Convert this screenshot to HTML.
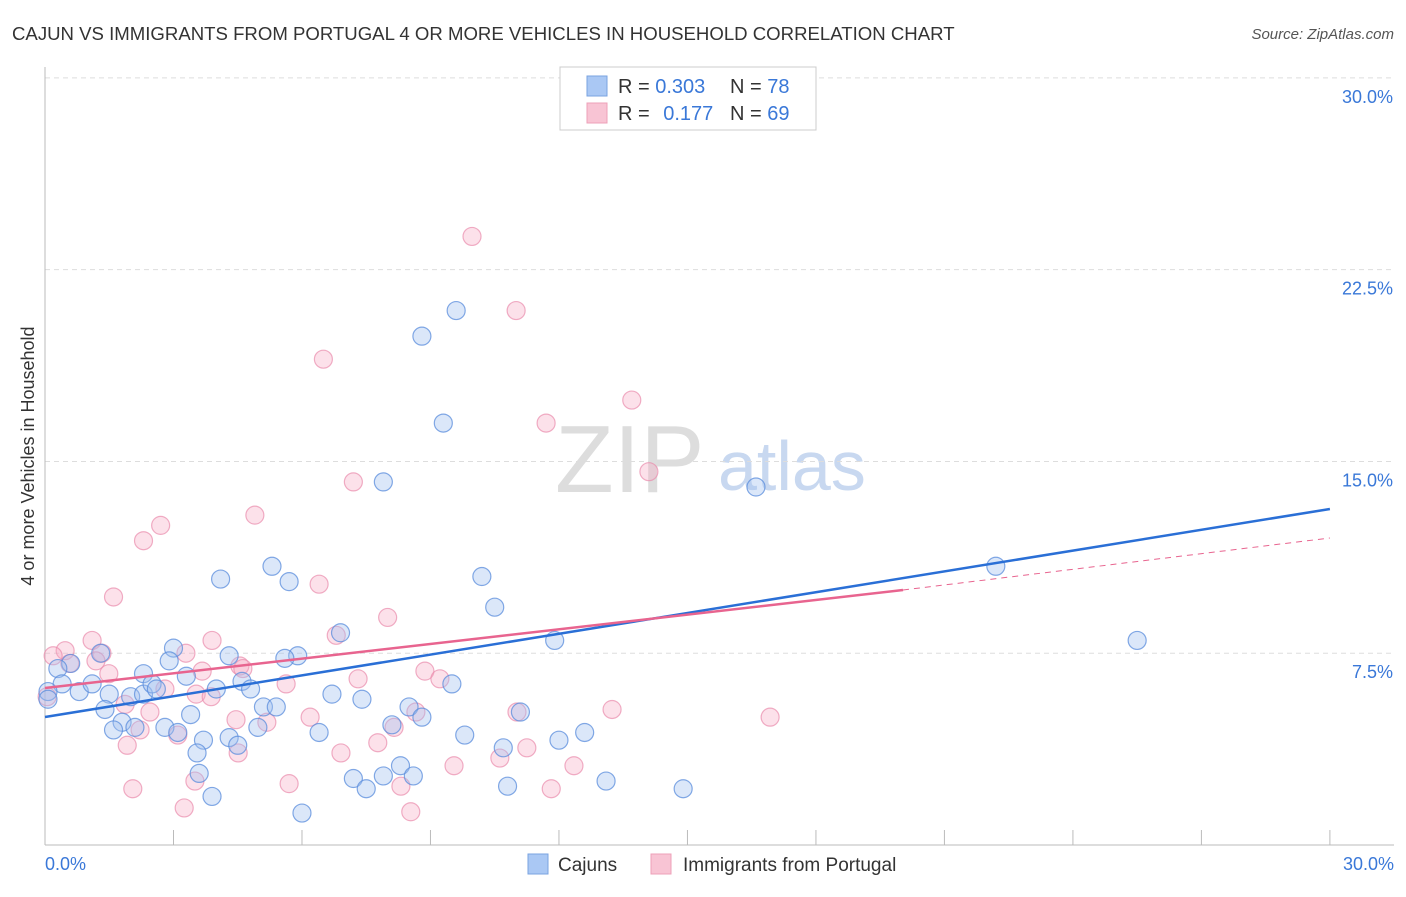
<!DOCTYPE html>
<html><head><meta charset="utf-8"><style>
body{margin:0;background:#fff;font-family:"Liberation Sans",sans-serif}
svg text{font-family:"Liberation Sans",sans-serif}
</style></head><body>
<svg id="c" width="1406" height="892">
<text x="12" y="40" font-size="18.6" fill="#333">CAJUN VS IMMIGRANTS FROM PORTUGAL 4 OR MORE VEHICLES IN HOUSEHOLD CORRELATION CHART</text>
<text x="1394" y="39" font-size="15" fill="#555" font-style="italic" text-anchor="end">Source: ZipAtlas.com</text>
<text transform="translate(34,456) rotate(-90)" font-size="18" fill="#333" text-anchor="middle">4 or more Vehicles in Household</text>
<text x="555" y="492" font-size="96" fill="#ddd" font-family="Liberation Serif">ZIP</text>
<text x="718" y="490" font-size="70" fill="#c8d8f0">atlas</text>
<g id="grid"></g><g id="pts"></g><g id="lines"></g>
<g>
<rect x="560" y="67" width="256" height="63" fill="#fff" stroke="#ccc"/>
<rect x="587" y="76" width="20" height="20" fill="#aac8f4" stroke="#7aa3e0"/>
<rect x="587" y="103" width="20" height="20" fill="#f8c4d4" stroke="#eea0b8"/>
<text x="618" y="93" font-size="20" fill="#333">R = <tspan fill="#3a78d8">0.303</tspan></text>
<text x="730" y="93" font-size="20" fill="#333">N = <tspan fill="#3a78d8">78</tspan></text>
<text x="618" y="120" font-size="20" fill="#333">R = <tspan fill="#3a78d8" dx="8">0.177</tspan></text>
<text x="730" y="120" font-size="20" fill="#333">N = <tspan fill="#3a78d8">69</tspan></text>
</g>
<g>
<rect x="528" y="854" width="20" height="20" fill="#aac8f4" stroke="#7aa3e0"/>
<text x="558" y="871" font-size="19" fill="#333">Cajuns</text>
<rect x="651" y="854" width="20" height="20" fill="#f8c4d4" stroke="#eea0b8"/>
<text x="683" y="871" font-size="19" fill="#333">Immigrants from Portugal</text>
</g>
</svg>
<script>
const yTicks=[7.5,15,22.5,30];
const yTickLabels=["7.5%","15.0%","22.5%","30.0%"];
const xTickVals=[0,3,6,9,12,15,18,21,24,27,30];
const cajunX=[17.6,9.6,8.8,9.3,7.9,16.6,4.1,5.3,5.7,10.2,10.5,22.2,25.5,11.9,6.9,3.0,4.3,5.9,5.6,2.9,2.3,3.3,1.3,0.6,0.3,0.4,0.8,1.1,1.5,2.0,2.3,2.5,2.6,4.0,4.6,4.8,6.7,7.4,5.1,5.4,8.5,8.8,9.5,11.1,1.4,3.4,1.8,2.1,1.6,2.8,3.1,4.97,6.4,4.3,4.5,3.7,3.55,9.8,12.0,12.6,10.7,8.1,8.3,7.2,7.9,8.6,3.6,3.9,7.5,10.8,13.1,14.9,6.0,0.07,0.07];
const cajunY=[29.8,20.9,19.9,16.5,14.2,14.0,10.4,10.9,10.3,10.5,9.3,10.9,8.0,8.0,8.3,7.7,7.4,7.4,7.3,7.2,6.7,6.6,7.5,7.1,6.9,6.3,6.0,6.3,5.9,5.8,5.9,6.3,6.1,6.1,6.4,6.1,5.9,5.7,5.4,5.4,5.4,5.0,6.3,5.2,5.3,5.1,4.8,4.6,4.5,4.6,4.4,4.6,4.4,4.2,3.9,4.1,3.6,4.3,4.1,4.4,3.8,4.7,3.1,2.6,2.7,2.7,2.8,1.9,2.2,2.3,2.5,2.2,1.25,6.0,5.7];
const portX=[9.97,11.0,6.5,13.7,11.7,14.1,7.2,4.9,2.7,2.3,6.4,1.6,8.0,6.8,3.9,1.1,0.47,1.33,0.58,1.19,0.19,3.29,4.55,4.62,3.67,8.87,1.49,7.31,9.22,5.63,2.8,3.53,3.88,0.05,1.87,2.45,4.46,6.19,5.18,8.66,11.02,13.24,16.93,2.22,3.1,8.15,1.92,4.51,6.91,7.77,11.25,10.62,12.35,9.55,3.5,5.7,2.05,8.31,11.82,3.25,8.54];
const portY=[23.8,20.9,19.0,17.4,16.5,14.6,14.2,12.9,12.5,11.9,10.2,9.7,8.9,8.2,8.0,8.0,7.6,7.5,7.1,7.2,7.4,7.5,7.0,6.9,6.8,6.8,6.7,6.5,6.5,6.3,6.1,5.9,5.8,5.8,5.5,5.2,4.9,5.0,4.8,5.2,5.2,5.3,5.0,4.5,4.3,4.6,3.9,3.6,3.6,4.0,3.8,3.4,3.1,3.1,2.5,2.4,2.2,2.3,2.2,1.45,1.3];
const NS='http://www.w3.org/2000/svg';
const X=v=>45+v*42.83, Y=v=>845-v*25.57;
function mk(t,a,p){const e=document.createElementNS(NS,t);for(const k in a)e.setAttribute(k,a[k]);p.appendChild(e);return e;}
const g=document.getElementById('grid');
yTicks.forEach((v,i)=>{
 const l=mk('line',{x1:45,x2:1394,y1:Y(v),y2:Y(v),stroke:'#ddd','stroke-dasharray':'5,4'},g);
 
 
 const t=mk('text',{x:1393,y:Y(v)+25,'font-size':18,fill:'#3a78d8','text-anchor':'end'},g);t.textContent=yTickLabels[i];
 
 
});
mk('line',{x1:45,x2:45,y1:67,y2:845,stroke:'#bbb'},g);
mk('line',{x1:45,x2:1394,y1:845,y2:845,stroke:'#bbb'},g);
xTickVals.forEach(v=>{const l=mk('line',{x1:X(v),x2:X(v),y1:830,y2:845,stroke:'#bbb'},g);
 
 });
let t=mk('text',{x:45,y:870,'font-size':18,fill:'#3a78d8'},g);t.textContent='0.0%';


t=mk('text',{x:1394,y:870,'font-size':18,fill:'#3a78d8','text-anchor':'end'},g);t.textContent='30.0%';


const p=document.getElementById('pts');
portX.forEach((v,i)=>{const c=mk('circle',{cx:X(v),cy:Y(portY[i]),r:9,fill:'rgba(246,170,196,0.35)',stroke:'rgba(234,140,172,0.7)','stroke-width':1.2},p);
 
 });
cajunX.forEach((v,i)=>{const c=mk('circle',{cx:X(v),cy:Y(cajunY[i]),r:9,fill:'rgba(160,192,240,0.38)',stroke:'rgba(90,140,220,0.75)','stroke-width':1.2},p);
 
 });
const L=document.getElementById('lines');
let l=mk('line',{x1:X(0),y1:717,x2:X(30),y2:509,stroke:'#2a6fd6','stroke-width':2.5},L);


l=mk('line',{x1:X(0),y1:688,x2:903,y2:590,stroke:'#e8648f','stroke-width':2.5},L);


l=mk('line',{x1:903,y1:590,x2:X(30),y2:538,stroke:'#e8648f','stroke-width':1,'stroke-dasharray':'6,5'},L);


</script>
</body></html>
